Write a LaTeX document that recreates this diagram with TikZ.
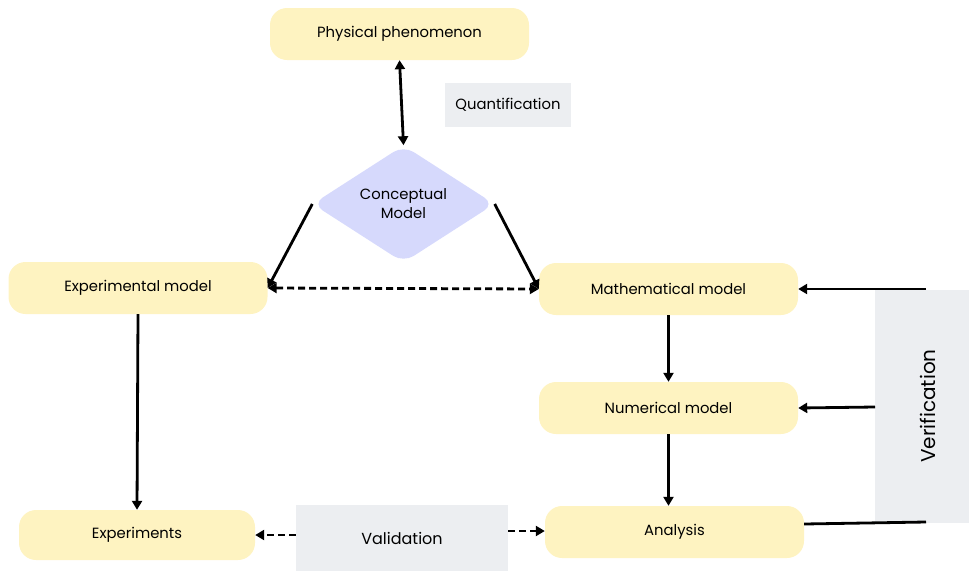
\documentclass[tikz,border=0pt]{standalone}
\usepackage{fontspec}
\setmainfont{Poppins}
\usetikzlibrary{shapes.geometric,arrows.meta}
\definecolor{boxyellow}{HTML}{FEF3C1}
\definecolor{boxgray}{HTML}{ECEEF1}
\definecolor{diamondblue}{HTML}{D6D9FC}
\tikzset{
  ybox/.style={draw=none, fill=boxyellow, rounded corners=17pt, minimum width=259pt, minimum height=52pt, inner sep=0pt, font=\fontsize{14.8}{16}\selectfont},
  gbox/.style={draw=none, fill=boxgray, inner sep=0pt},
  conn/.style={line width=2.8pt, -{Triangle[length=9pt,width=10pt]}},
  dconn/.style={conn, dash pattern=on 7pt off 4pt},
  bothconn/.style={line width=2.8pt, {Triangle[length=9pt,width=10pt]}-{Triangle[length=9pt,width=10pt]}},
}
\begin{document}
\begin{tikzpicture}[x=1pt,y=-1pt]
\useasboundingbox (0,0) rectangle (969,571);
% nodes
\node[ybox] (phys) at (399.5,34) {Physical phenomenon};
\node[gbox, minimum width=126pt, minimum height=44pt, font=\fontsize{14.8}{16}\selectfont] (quant) at (508,105) {Quantification};
\node[diamond, fill=diamondblue, rounded corners=12pt, minimum width=182pt, minimum height=114pt, inner sep=0pt, align=center, font=\fontsize{14.8}{19}\selectfont] (concept) at (403.5,204) {Conceptual\\Model};
\node[ybox] (expm) at (138,288) {Experimental model};
\node[ybox] (math) at (668.5,289) {Mathematical model};
\node[ybox] (num) at (668.5,408) {Numerical model};
\node[ybox] (ana) at (674.5,532) {Analysis};
\node[ybox, minimum width=236pt, minimum height=50pt] (expt) at (137,535) {Experiments};
\node[gbox, minimum width=212pt, minimum height=66pt, font=\fontsize{16}{18}\selectfont] (valid) at (402,538) {Validation};
\node[gbox, minimum width=94pt, minimum height=233pt] (verif) at (922,406.5) {};
\node[rotate=90, font=\fontsize{20}{22}\selectfont] (veriftext) at (928,406) {Verification};
% free ends
\coordinate (vtop) at (926,289);
\coordinate (vmid) at (875,407);
\coordinate (vbot) at (926,522);
% connectors
\draw[bothconn] (phys.south) -- (concept.north);
\draw[conn] (concept.west) -- (expm.east);
\draw[conn] (concept.east) -- (math.west);
\draw[bothconn, dash pattern=on 7pt off 4pt] (expm.east) -- (math.west);
\draw[conn] (expm.south) -- (expt.north);
\draw[conn] (math.south) -- (num.north);
\draw[conn] (num.south) -- (ana.north -| num.south);
\draw[conn] (vtop) -- (math.east);
\draw[conn] (vmid) -- (num.east);
\draw[line width=2.8pt] (ana.east |- 0,524) -- (vbot);
\draw[dconn] (valid.west |- expt.east) -- (expt.east);
\draw[dconn] (valid.east |- 0,531) -- (ana.west |- 0,531);
\end{tikzpicture}
\end{document}
